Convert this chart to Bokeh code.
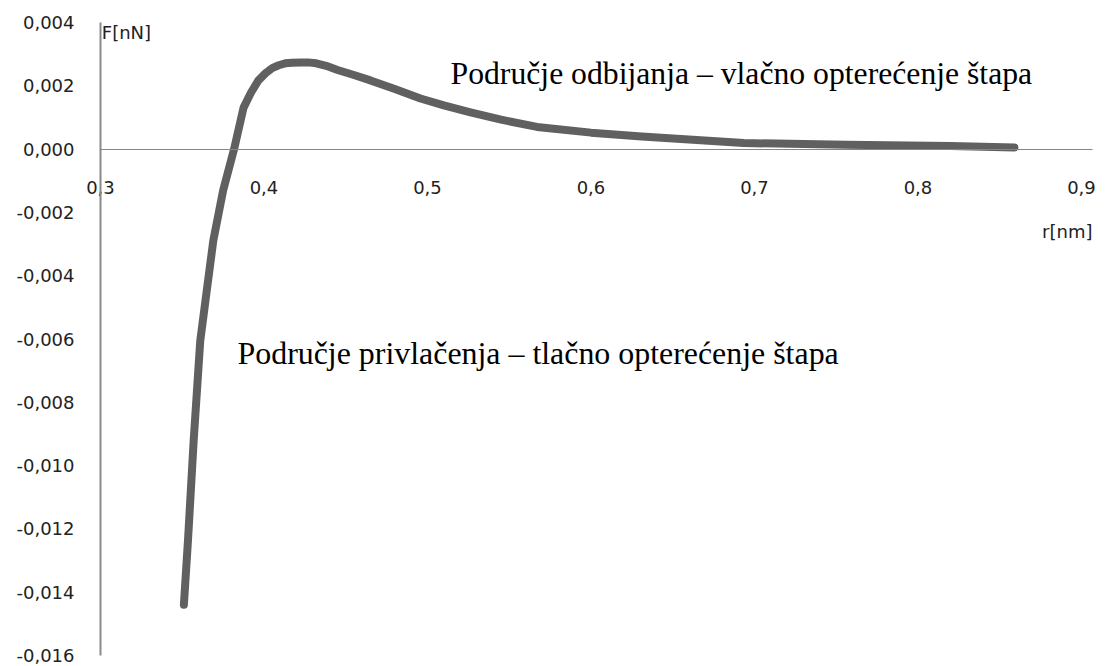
from bokeh.plotting import figure
from bokeh.models import LinearAxis, CustomJSTickFormatter, FixedTicker, Label, Range1d
from bokeh.embed import file_html
from bokeh.resources import INLINE

# distance r [nm] and force F [nN]
r_nm = [0.351, 0.3535, 0.357, 0.361, 0.365, 0.369, 0.375, 0.3817, 0.3875, 0.392,
        0.3966, 0.401, 0.405, 0.409, 0.413, 0.417, 0.4223, 0.427, 0.432, 0.438,
        0.445, 0.455, 0.4651, 0.48, 0.4957, 0.51, 0.5263, 0.545, 0.567, 0.6,
        0.631, 0.6935, 0.756, 0.82, 0.859]
F_nN = [-0.0144, -0.01237, -0.0092, -0.00606, -0.00447, -0.00289, -0.00131, 0.0,
        0.00131, 0.00178, 0.00217, 0.0024, 0.00256, 0.00265, 0.00271, 0.00273,
        0.00274, 0.00274, 0.00271, 0.00263, 0.0025, 0.00234, 0.00217, 0.0019,
        0.0016, 0.00138, 0.00116, 0.00093, 0.0007, 0.00052, 0.0004, 0.00019,
        0.00014, 0.0001, 0.00005]

x_ticks = [0.3, 0.4, 0.5, 0.6, 0.7, 0.8, 0.9]
y_ticks = [-0.016, -0.014, -0.012, -0.010, -0.008, -0.006, -0.004, -0.002, 0.0, 0.002, 0.004]

label_top = "Područje odbijanja – vlačno opterećenje štapa"
label_bottom = "Područje privlačenja – tlačno opterećenje štapa"

W, H = 1100, 666
px_x = 1635.0    # pixels per nm
px_y = 31650.0   # pixels per nN
x0 = 0.3 - 100 / px_x
x1 = 0.3 + (W - 100) / px_x
y1 = 148.6 / px_y
y0 = -(H - 148.6) / px_y

p = figure(width=W, height=H, output_backend="svg", toolbar_location=None,
           x_range=Range1d(x0, x1), y_range=Range1d(y0, y1),
           x_axis_type=None, y_axis_type=None,
           min_border_left=0, min_border_right=0, min_border_top=0, min_border_bottom=0)
p.outline_line_color = None
p.grid.visible = False
p.background_fill_color = "white"
p.border_fill_color = "white"

sans = "DejaVu Sans"
lab_size = "18px"

yaxis = LinearAxis(ticker=FixedTicker(ticks=y_ticks), fixed_location=0.3, bounds=(-0.016, 0.004),
                   formatter=CustomJSTickFormatter(code="return tick.toFixed(3).replace('.', ',');"))
yaxis.axis_line_color = "#8a8a8a"
yaxis.axis_line_width = 2
yaxis.major_tick_line_color = None
yaxis.minor_tick_line_color = None
yaxis.major_tick_out = 0
yaxis.major_tick_in = 0
yaxis.major_label_standoff = 26
yaxis.major_label_text_font = sans
yaxis.major_label_text_font_size = lab_size
yaxis.major_label_text_color = "#222222"
p.add_layout(yaxis, "left")

xaxis = LinearAxis(ticker=FixedTicker(ticks=x_ticks), fixed_location=0, bounds=(0.3, 0.9067),
                   formatter=CustomJSTickFormatter(code="return tick.toFixed(1).replace('.', ',');"))
xaxis.axis_line_color = "#868686"
xaxis.axis_line_width = 1
xaxis.major_tick_line_color = None
xaxis.minor_tick_line_color = None
xaxis.major_tick_out = 0
xaxis.major_tick_in = 0
xaxis.major_label_standoff = 32
xaxis.major_label_text_font = sans
xaxis.major_label_text_font_size = lab_size
xaxis.major_label_text_color = "#222222"
p.add_layout(xaxis, "below")

p.line(r_nm, F_nN, line_width=8, line_color="#606060", line_cap="round", line_join="round")

p.add_layout(Label(x=0.3008, y=0.00403, text="F[nN]", text_baseline="top", text_align="left",
                   text_font=sans, text_font_size=lab_size, text_color="#222222"))
p.add_layout(Label(x=0.9067, y=-0.0026, text="r[nm]", text_baseline="middle", text_align="right",
                   text_font=sans, text_font_size=lab_size, text_color="#222222"))

p.add_layout(Label(x=0.5141, y=0.0024, text=label_top, text_baseline="alphabetic",
                   text_font="Liberation Serif", text_font_size="31.7px", text_color="#000000"))
p.add_layout(Label(x=0.3838, y=-0.00646, text=label_bottom, text_baseline="alphabetic",
                   text_font="Liberation Serif", text_font_size="31.9px", text_color="#000000"))

open("out.html", "w").write(file_html(p, INLINE))
